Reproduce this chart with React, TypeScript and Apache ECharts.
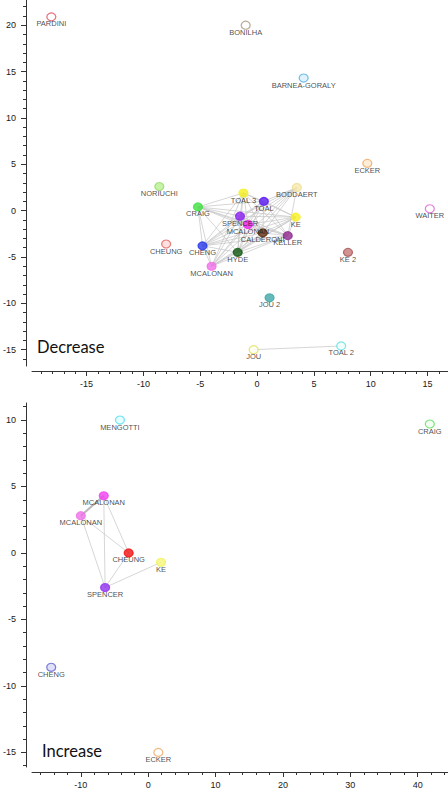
import React, { useEffect, useRef } from "react";
import * as echarts from "echarts";

// ---------- Decrease panel ----------
const decNames = ["PARDINI", "BONILHA", "BARNEA-GORALY", "ECKER", "NORIUCHI", "BODDAERT", "TOAL 3", "TOAL", "CRAIG", "SPENCER", "KE", "MCALONAN", "CALDERONI", "KELLER", "CHEUNG", "CHENG", "HYDE", "MCALONAN", "KE 2", "WAITER", "JOU 2", "JOU", "TOAL 2"];
const decX = [-18.1, -1.0, 4.1, 9.7, -8.6, 3.5, -1.2, 0.6, -5.2, -1.5, 3.4, -0.8, 0.5, 2.7, -8.0, -4.8, -1.7, -4.0, 8.0, 15.2, 1.1, -0.3, 7.4];
const decY = [20.9, 20.0, 14.3, 5.1, 2.6, 2.5, 1.9, 1.0, 0.4, -0.6, -0.7, -1.5, -2.4, -2.7, -3.6, -3.8, -4.5, -6.0, -4.5, 0.2, -9.4, -15.0, -14.6];
const decFill = ["#ffffff", "#ffffff", "#d8f0fc", "#fde8d0", "#b8f090", "#f8eaa8", "#f4f020", "#5a18f0", "#40e040", "#8a20f0", "#f8f020", "#f020f0", "#603010", "#902890", "#fcd8d8", "#2838e8", "#105810", "#f070e8", "#c87878", "#ffffff", "#40a8a8", "#fffff0", "#f0ffff"];
const decStroke = ["#e05060", "#a89880", "#58b0e0", "#f0a860", "#98d870", "#f0dc98", "#f4f020", "#5a18f0", "#40e040", "#8a20f0", "#f8f020", "#f020f0", "#603010", "#902890", "#e06060", "#2838e8", "#105810", "#f070e8", "#a05050", "#e060d0", "#40a8a8", "#e0e060", "#60e0e0"];
// cluster of co-activated studies (all pairs connected)
const decCluster = ["TOAL 3", "TOAL", "CRAIG", "SPENCER", "KE", "MCALONAN", "CALDERONI", "KELLER", "CHENG", "HYDE", "MCALONAN#2"];
const decExtraEdges: [string, string][] = [
  ["BODDAERT", "TOAL"], ["BODDAERT", "SPENCER"], ["BODDAERT", "MCALONAN"], ["BODDAERT", "CALDERONI"],
  ["BODDAERT", "KELLER"], ["BODDAERT", "HYDE"], ["BODDAERT", "MCALONAN#2"], ["BODDAERT", "CHENG"],
  ["JOU", "TOAL 2"],
];
const decTicks = [-15, -10, -5, 0, 5, 10, 15];
const decYTicks = [-15, -10, -5, 0, 5, 10, 15, 20];

// ---------- Increase panel ----------
const incNames = ["MENGOTTI", "CRAIG", "MCALONAN", "MCALONAN", "CHEUNG", "KE", "SPENCER", "CHENG", "ECKER"];
const incX = [-4.2, 41.8, -6.6, -10.0, -2.9, 1.9, -6.4, -14.4, 1.5];
const incY = [10.0, 9.7, 4.3, 2.8, 0.0, -0.7, -2.6, -8.6, -15.0];
const incFill = ["#e0fcfc", "#f0fff0", "#f040f0", "#f070e8", "#f01010", "#f8f878", "#9030f0", "#d8d8f8", "#ffffff"];
const incStroke = ["#50e0f0", "#60e060", "#f040f0", "#f070e8", "#f01010", "#f0f060", "#9030f0", "#6060d0", "#f0a860"];
const incEdges: [number, number][] = [[2, 4], [2, 6], [3, 4], [3, 6], [4, 6], [6, 5]];
const incThickEdges: [number, number][] = [[2, 3]];
const incXTicks = [-10, 0, 10, 20, 30, 40];
const incYTicks = [-15, -10, -5, 0, 5, 10];

const FONT = "Liberation Sans, Arial, sans-serif";
const AXIS_COLOR = "#333";

function uniqueKeys(names: string[]): string[] {
  const seen: Record<string, number> = {};
  return names.map((n) => {
    seen[n] = (seen[n] || 0) + 1;
    return seen[n] > 1 ? `${n}#${seen[n]}` : n;
  });
}

function range(a: number, b: number, step: number): number[] {
  const out: number[] = [];
  for (let v = a; v <= b + 1e-9; v += step) out.push(Math.round(v * 100) / 100);
  return out;
}

function majorAxis(gridIndex: number, min: number, max: number, ticks: number[], isX: boolean) {
  return {
    type: "value",
    gridIndex,
    min,
    max,
    position: isX ? "bottom" : "left",
    offset: isX ? 5 : 6,
    axisLine: { show: true, onZero: false, lineStyle: { color: AXIS_COLOR, width: 1 } },
    axisTick: { show: true, length: 5, customValues: ticks, lineStyle: { color: AXIS_COLOR, width: 1 } },
    axisLabel: { show: true, customValues: ticks, fontSize: 9, color: "#1a1a1a", fontFamily: FONT, margin: isX ? 8 : 10 },
    splitLine: { show: false },
  };
}

function minorAxis(gridIndex: number, min: number, max: number, ticks: number[], isX: boolean) {
  return {
    type: "value",
    gridIndex,
    min,
    max,
    position: isX ? "bottom" : "left",
    offset: isX ? 5 : 6,
    axisLine: { show: false, onZero: false },
    axisTick: { show: true, length: 3, customValues: ticks, lineStyle: { color: AXIS_COLOR, width: 1 } },
    axisLabel: { show: false },
    splitLine: { show: false },
  };
}

function scatterData(names: string[], xs: number[], ys: number[], fill: string[], stroke: string[]) {
  return names.map((n, i) => ({
    name: n,
    value: [xs[i], ys[i]],
    itemStyle: { color: fill[i], borderColor: stroke[i], borderWidth: 1.2 },
  }));
}

const labelStyle = {
  show: true,
  formatter: "{b}",
  position: "inside",
  offset: [0, 7],
  fontSize: 7.5,
  color: "#1a1a1a",
  fontFamily: FONT,
};

export default function App() {
  const ref = useRef<HTMLDivElement>(null);
  useEffect(() => {
    document.body.style.margin = "0";
    if (!ref.current) return;
    const chart = echarts.init(ref.current, null, { renderer: "svg" });

    // Decrease edges
    const decKeys = uniqueKeys(decNames);
    const idx = (k: string) => decKeys.indexOf(k);
    const decEdgeData: any[] = [];
    for (let a = 0; a < decCluster.length; a++) {
      for (let b = a + 1; b < decCluster.length; b++) {
        const i = idx(decCluster[a]);
        const j = idx(decCluster[b]);
        decEdgeData.push({ coords: [[decX[i], decY[i]], [decX[j], decY[j]]] });
      }
    }
    decExtraEdges.forEach(([p, q]) => {
      const i = idx(p);
      const j = idx(q);
      decEdgeData.push({ coords: [[decX[i], decY[i]], [decX[j], decY[j]]] });
    });

    const incEdgeData = incEdges.map(([i, j]) => ({ coords: [[incX[i], incY[i]], [incX[j], incY[j]]] }));
    const incThickData = incThickEdges.map(([i, j]) => ({ coords: [[incX[i], incY[i]], [incX[j], incY[j]]] }));

    const option: any = {
      animation: false,
      backgroundColor: "#ffffff",
      grid: [
        { left: 28, right: 0, top: 0, height: 366 },
        { left: 28, right: 0, top: 403, height: 365 },
      ],
      xAxis: [
        majorAxis(0, -19.8, 16.8, decTicks, true),
        minorAxis(0, -19.8, 16.8, range(-19, 16, 1), true),
        majorAxis(1, -17.25, 44.5, incXTicks, true),
        minorAxis(1, -17.25, 44.5, range(-16, 44, 2), true),
      ],
      yAxis: [
        majorAxis(0, -16.76, 22.72, decYTicks, false),
        minorAxis(0, -16.76, 22.72, range(-16, 22, 1), false),
        majorAxis(1, -16.1, 11.28, incYTicks, false),
        minorAxis(1, -16.1, 11.28, range(-16, 11, 1), false),
      ],
      graphic: [
        { type: "text", x: 37, y: 347, style: { text: "Decrease", fontSize: 16.5, fontFamily: "Lato, Carlito, sans-serif", fill: "#111", verticalAlign: "middle" } },
        { type: "text", x: 42, y: 751, style: { text: "Increase", fontSize: 16.5, fontFamily: "Lato, Carlito, sans-serif", fill: "#111", verticalAlign: "middle" } },
      ],
      series: [
        {
          type: "lines",
          coordinateSystem: "cartesian2d",
          xAxisIndex: 0,
          yAxisIndex: 0,
          z: 1,
          silent: true,
          lineStyle: { color: "#c4c4c4", width: 0.7, opacity: 1 },
          data: decEdgeData,
        },
        {
          type: "scatter",
          xAxisIndex: 0,
          yAxisIndex: 0,
          z: 3,
          symbol: "circle",
          symbolSize: [9, 8],
          label: labelStyle,
          data: scatterData(decNames, decX, decY, decFill, decStroke),
        },
        {
          type: "lines",
          coordinateSystem: "cartesian2d",
          xAxisIndex: 2,
          yAxisIndex: 2,
          z: 1,
          silent: true,
          lineStyle: { color: "#cccccc", width: 0.8, opacity: 1 },
          data: incEdgeData,
        },
        {
          type: "lines",
          coordinateSystem: "cartesian2d",
          xAxisIndex: 2,
          yAxisIndex: 2,
          z: 1,
          silent: true,
          lineStyle: { color: "#b8b8b8", width: 2, opacity: 1 },
          data: incThickData,
        },
        {
          type: "scatter",
          xAxisIndex: 2,
          yAxisIndex: 2,
          z: 3,
          symbol: "circle",
          symbolSize: [9, 8],
          label: labelStyle,
          data: scatterData(incNames, incX, incY, incFill, incStroke),
        },
      ],
    };
    chart.setOption(option);
    return () => chart.dispose();
  }, []);
  return <div ref={ref} style={{ position: "absolute", left: 0, top: 0, width: 448, height: 789 }} />;
}
